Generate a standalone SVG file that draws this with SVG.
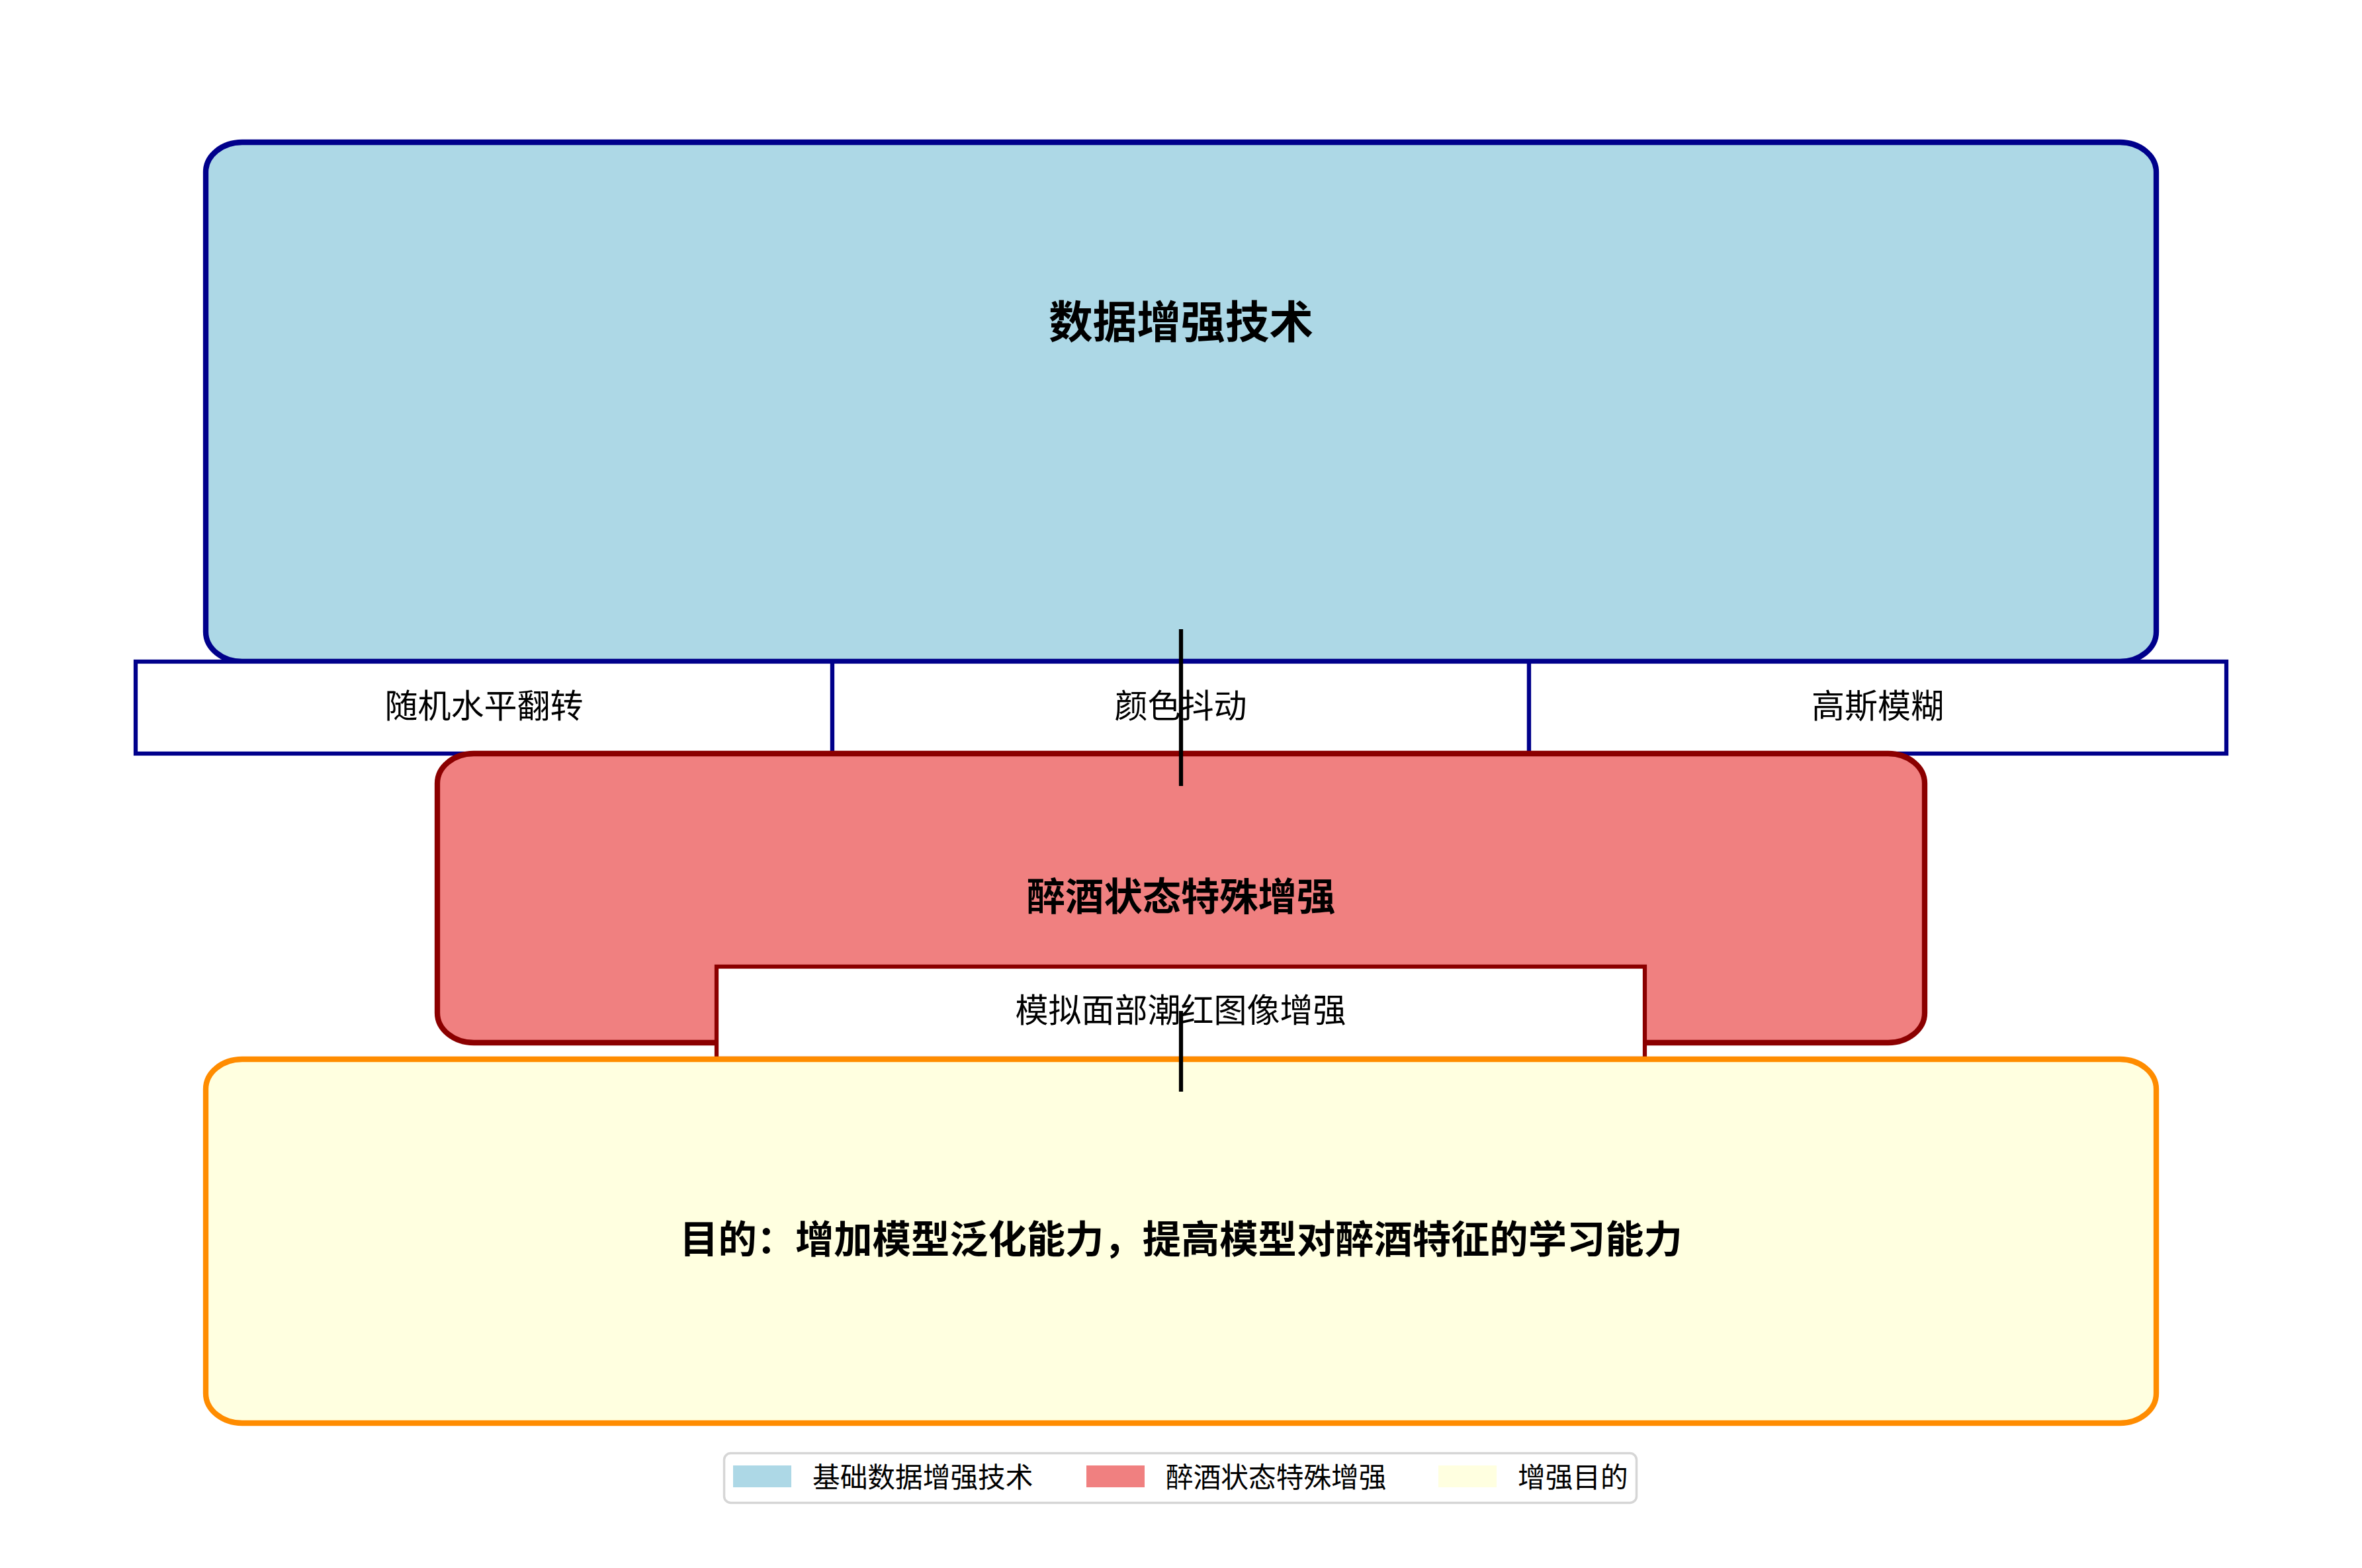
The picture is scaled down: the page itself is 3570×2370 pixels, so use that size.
<svg xmlns="http://www.w3.org/2000/svg" width="3570" height="2370" viewBox="0 0 3570 2370">
<style>
text{font-family:"Noto Sans CJK SC","Noto Sans",sans-serif;fill:#000;text-anchor:middle;dominant-baseline:central}
.t16{font-size:66.7px;font-weight:bold}
.t14{font-size:58.3px;font-weight:bold}
.t12{font-size:50px}
.t10{font-size:41.7px;text-anchor:start}
.cellb{fill:#fff;stroke:#00008B;stroke-width:6.25}
.cellr{fill:#fff;stroke:#8B0000;stroke-width:6.25}
.conn{stroke:#000;stroke-width:6.25;fill:none}
</style>
<rect width="3570" height="2370" fill="#fff"/>
<g id="basic">
<rect x="311" y="215" width="2948" height="785" rx="55" ry="45" fill="#ADD8E6" stroke="#00008B" stroke-width="8.3"/>
<text class="t16" x="1785" y="482">数据增强技术</text>
</g>
<g id="flip">
<rect class="cellb" x="205" y="1000" width="1053" height="139"/>
<text class="t12" x="731.5" y="1063">随机水平翻转</text>
</g>
<g id="jitter">
<rect class="cellb" x="1258" y="1000" width="1053" height="139"/>
<text class="t12" x="1784.5" y="1063">颜色抖动</text>
</g>
<g id="blur">
<rect class="cellb" x="2311" y="1000" width="1054" height="139"/>
<text class="t12" x="2838" y="1063">高斯模糊</text>
</g>
<g id="drunk">
<rect x="661" y="1139" width="2248" height="437" rx="55" ry="45" fill="#F08080" stroke="#8B0000" stroke-width="8.3"/>
<text class="t14" x="1785" y="1350">醉酒状态特殊增强</text>
</g>
<g id="flush">
<rect class="cellr" x="1083" y="1461" width="1403" height="139"/>
<text class="t12" x="1784.5" y="1523">模拟面部潮红图像增强</text>
</g>
<g id="purpose">
<rect x="311" y="1601" width="2948" height="550" rx="55" ry="45" fill="#FFFFE0" stroke="#FF8C00" stroke-width="8.3"/>
<text class="t14" x="1785" y="1868">目的：增加模型泛化能力，提高模型对醉酒特征的学习能力</text>
</g>
<g id="connectors">
<line class="conn" x1="1785" y1="951" x2="1785" y2="1188"/>
<line class="conn" x1="1785" y1="1528" x2="1785" y2="1650"/>
</g>
<g id="legend">
<rect x="1094.5" y="2196.5" width="1379" height="75" rx="10" fill="#fff" stroke="#d6d6d6" stroke-width="3.5"/>
<rect x="1108" y="2215" width="88" height="33" fill="#ADD8E6"/>
<text class="t10" x="1228" y="2230">基础数据增强技术</text>
<rect x="1642" y="2215" width="88" height="33" fill="#F08080"/>
<text class="t10" x="1762" y="2230">醉酒状态特殊增强</text>
<rect x="2174" y="2215" width="88" height="33" fill="#FFFFE0"/>
<text class="t10" x="2294" y="2230">增强目的</text>
</g>
</svg>
